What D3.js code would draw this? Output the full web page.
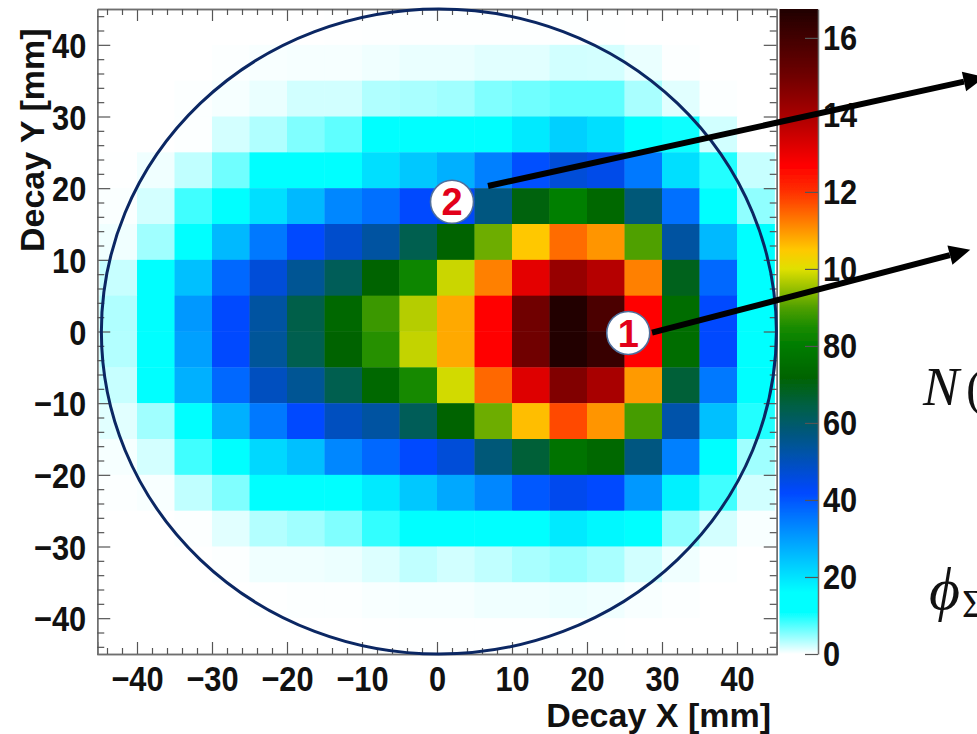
<!DOCTYPE html>
<html>
<head>
<meta charset="utf-8">
<script src="https://cdn.jsdelivr.net/npm/d3@7"></script>
<style>
html,body{margin:0;padding:0;background:#fff;overflow:hidden}
svg{display:block}
.lab text{font-family:"Liberation Sans",Arial,sans-serif;font-weight:700;font-size:35px;fill:#111}
.ttl text{font-family:"Liberation Sans",Arial,sans-serif;font-weight:700;font-size:34px;fill:#111}
</style>
</head>
<body>
<svg id="c" width="977" height="734"></svg>
<script>
const xTicks = [-40,-30,-20,-10,0,10,20,30,40];
const yTicks = [-40,-30,-20,-10,0,10,20,30,40];
const minorTicks = [-44,-42,-38,-36,-34,-32,-28,-26,-24,-22,-18,-16,-14,-12,-8,-6,-4,-2,2,4,6,8,12,14,16,18,22,24,26,28,32,34,36,38,42,44];
const barTicks = [0,20,40,60,80,100,120,140,160];
const barLabels = ["0","20","40","60","80","10","12","14","16"];
const binEdgesX = [-45,-40,-35,-30,-25,-20,-15,-10,-5,0,5,10,15,20,25,30,35,40,45];
const binEdgesY = [45,40,35,30,25,20,15,10,5,0,-5,-10,-15,-20,-25,-30,-35,-40,-45];
const colorValues = [0,11,16,42,55,65,72,80,85,90,100,105,112,120,127,140,150,167.5];
const colorHex = ["#ffffff","#00ffff","#00ffff","#0048ff","#005590","#006040","#006400","#007c00","#1a8c00","#50a000","#e0e000","#ffc800","#ff8000","#ff3000","#ff0000","#a80000","#700000","#200000"];
const counts = [
[0,0,0,0,0,0,.05,.1,.1,.1,.1,.1,.1,.05,0,0,0,0],
[0,0,0,.13,.3,.37,.37,.65,.9,.9,1.3,1.3,2,1.9,.9,.13,0,0],
[0,0,.13,.37,.9,2,2,3.4,3.7,4.1,5.5,6.2,6.9,6.9,3.7,1.3,.13,0],
[0,0,.13,1.9,3.4,5.5,6.9,12,12,12,13,19,22.7,20.5,14,10.3,2,0],
[.05,.65,2.7,6.2,12,12,12,20.5,23.8,27.2,34,41,46.6,44.6,35,20.5,9.6,2.4],
[.2,1.9,8.2,12,20.5,26,33,36.3,42,43,57,71,81,73,58,36.3,14,4.8],
[.65,4.1,13,26,35,42,48,53,63,72,92,105,114,110,90,53,26,13],
[2.4,13,25,37.4,46.6,54.5,62,72,83,98.5,112,131,143,138,112,69,37.4,13],
[3.4,13,30.6,42,53,64,73,88,97,108,127,150,167,158,127,75,42,13],
[3.3,13,29.5,42,54,63,72,86,98,108,127,150,167,162,127,75,42,13],
[2.4,13,27.2,37.4,49.5,54.5,63,73,84,99,114.5,132,147,140,109.5,66,35,13],
[1.3,4.1,13,27.2,35,42,49.5,53,62,72,92,106,117.5,110,89,52,25,9.6],
[.37,1.9,8.2,13,21.5,25,33,37.4,42,46.6,58,66,77,73,57,34,14,4.1],
[.13,.3,2.7,5.5,12,12,12,19,23.8,28.4,33,39.7,44,42,30.6,18,8.2,2],
[0,0,.13,1.3,3.3,4.1,5.5,8.9,12,12,13,14,19,17,13,4.8,1.9,.3],
[0,0,0,.13,.65,.65,.8,1.5,2.7,2,2.7,3.7,4.5,3.7,2,.65,.13,0],
[0,0,0,0,.05,.13,.13,.3,.37,.37,.65,.65,.8,.65,.3,.13,0,0],
[0,0,0,0,0,0,0,.03,.04,.04,.04,.04,.04,.03,0,0,0,0]
];
const aperture = {cx:.25, cy:0, r:45};
const arrows = [
  {from:[28.67,-.17], to:[71.1,11.4]},
  {from:[6.8,20.3], to:[73,35.5]}
];
const badges = [
  {x:25.5, y:-.2, label:"1"},
  {x:2, y:18.1, label:"2"}
];

const svg = d3.select("#c");
const x = d3.scaleLinear().domain([-45.3,45.3]).range([97.25,776.75]);
const y = d3.scaleLinear().domain([45,-45]).range([9,654]);
const z = d3.scaleLinear().domain([0,167.5]).range([654,9]);
const color = d3.scaleLinear().domain(colorValues).range(colorHex).clamp(true);

const defs = svg.append("defs");
const grad = defs.append("linearGradient").attr("id","bar").attr("x1",0).attr("x2",0).attr("y1",1).attr("y2",0);
grad.selectAll("stop").data(colorValues).join("stop")
  .attr("offset",d=>d/167.5).attr("stop-color",(d,i)=>colorHex[i]);
defs.append("filter").attr("id","soft").attr("x","-2%").attr("y","-2%").attr("width","104%").attr("height","104%")
  .append("feGaussianBlur").attr("stdDeviation",0.7);

const heat = svg.append("g").attr("filter","url(#soft)");
counts.forEach((row,r)=>{
  heat.selectAll(null).data(row).join("rect")
    .attr("x",(d,c)=>x(binEdgesX[c]))
    .attr("y",y(binEdgesY[r]))
    .attr("width",(d,c)=>x(binEdgesX[c+1])-x(binEdgesX[c])+.4)
    .attr("height",y(binEdgesY[r+1])-y(binEdgesY[r])+.4)
    .attr("fill",d=>color(d));
});

function frame(axis, tx, ty, cls){
  const g = svg.append("g").attr("transform",`translate(${tx},${ty})`).attr("class",cls||"");
  g.call(axis);
  g.selectAll("path.domain").attr("stroke","#6f6f6f").attr("stroke-width",1.5);
  g.selectAll(".tick line").attr("stroke","#555").attr("stroke-width",1.2);
  return g;
}
// the reference's tick digits are tall and narrow: squeeze them horizontally
function squeeze(g, dy){
  g.selectAll(".tick text").each(function(){
    const t=d3.select(this), tx=+t.attr("x")||0;
    t.attr("x",0).attr("transform",`translate(${tx},0) scale(.88,1)`);
    if(dy) t.attr("dy",dy);
  });
}
const noLabel = ()=>"";
const H = y.range()[1], W = x.range()[1], L = x.range()[0], T = y.range()[0];
squeeze(frame(d3.axisBottom(x).tickValues(xTicks).tickSize(-12).tickPadding(12).tickFormat(d3.format("d")),0,H,"lab"));
frame(d3.axisBottom(x).tickValues(minorTicks).tickSize(-6).tickSizeOuter(0).tickFormat(noLabel),0,H);
frame(d3.axisTop(x).tickValues(xTicks).tickSize(-12).tickSizeOuter(0).tickFormat(noLabel),0,T);
frame(d3.axisTop(x).tickValues(minorTicks).tickSize(-6).tickSizeOuter(0).tickFormat(noLabel),0,T);
squeeze(frame(d3.axisLeft(y).tickValues(yTicks).tickSize(-13).tickSizeOuter(0).tickPadding(11).tickFormat(d3.format("d")),L,0,"lab"),".36em");
frame(d3.axisLeft(y).tickValues(minorTicks).tickSize(-7).tickSizeOuter(0).tickFormat(noLabel),L,0);
frame(d3.axisRight(y).tickValues(yTicks).tickSize(-13).tickSizeOuter(0).tickFormat(noLabel),W,0);
frame(d3.axisRight(y).tickValues(minorTicks).tickSize(-7).tickSizeOuter(0).tickFormat(noLabel),W,0);

// aperture
svg.append("ellipse")
  .attr("cx",x(aperture.cx)).attr("cy",y(aperture.cy))
  .attr("rx",x(aperture.r)-x(0)).attr("ry",y(0)-y(aperture.r))
  .attr("fill","none").attr("stroke","#0b2763").attr("stroke-width",3);

// colour bar
svg.append("rect").attr("x",779.5).attr("y",z(167.5)).attr("width",38.5).attr("height",z(0)-z(167.5)).attr("fill","url(#bar)").attr("filter","url(#soft)");
squeeze(frame(d3.axisRight(z).tickValues(barTicks).tickSize(-13).tickSizeOuter(0).tickPadding(5).tickFormat((d,i)=>barLabels[i]),818,0,"lab"),".32em");

// titles
svg.append("g").attr("class","ttl").append("text").attr("x",771).attr("y",727).attr("text-anchor","end").text("Decay X [mm]");
svg.append("g").attr("class","ttl").append("text").attr("transform","translate(44,252) rotate(-90)").text("Decay Y [mm]");

// arrows
arrows.forEach(a=>{
  const x0=x(a.from[0]),y0=y(a.from[1]),x1=x(a.to[0]),y1=y(a.to[1]);
  const ang=Math.atan2(y1-y0,x1-x0), hl=21, hw=10;
  const bx=x1-hl*Math.cos(ang), by=y1-hl*Math.sin(ang);
  svg.append("line").attr("x1",x0).attr("y1",y0).attr("x2",bx).attr("y2",by).attr("stroke","#000").attr("stroke-width",6);
  svg.append("polygon").attr("fill","#000").attr("points",[
    [x1,y1],
    [bx-hw*Math.sin(ang),by+hw*Math.cos(ang)],
    [bx+hw*Math.sin(ang),by-hw*Math.cos(ang)]
  ].join(" "));
});

// numbered badges
const b = svg.selectAll("g.badge").data(badges).join("g").attr("class","badge").attr("transform",d=>`translate(${x(d.x)},${y(d.y)})`);
b.append("circle").attr("r",21.5).attr("fill","#fff").attr("stroke","#4f6f9c").attr("stroke-width",1.6);
b.append("text").attr("text-anchor","middle").attr("dy",".36em").attr("fill","#e2001a")
  .attr("font-family","'Liberation Sans',Arial,sans-serif").attr("font-weight",700).attr("font-size",38).text(d=>d.label);

// cropped formula fragments at the right edge, as in the reference
const f = svg.append("g").attr("font-family","'Liberation Serif',serif").attr("fill","#111");
f.append("text").attr("x",923).attr("y",405).attr("font-size",54).attr("font-style","italic").text("N");
f.append("text").attr("x",966).attr("y",405).attr("font-size",50).text("(");
f.append("text").attr("x",929).attr("y",609).attr("font-size",60).attr("font-style","italic").text("\u03D5");
f.append("text").attr("x",962).attr("y",617).attr("font-size",40).text("\u03A3");
</script>
</body>
</html>
